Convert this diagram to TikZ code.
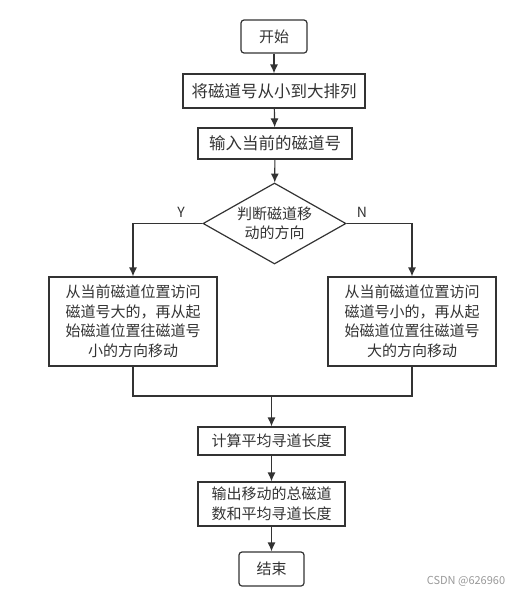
\documentclass[tikz,border=0pt]{standalone}
\usepackage{fontspec}
\setmainfont{Noto Sans CJK SC}
\usepackage{xcolor}
\usepackage{tikz}
\usetikzlibrary{shapes,arrows.meta}
\definecolor{ink}{HTML}{333333}
\tikzstyle{block} = [rectangle, draw=ink, line width=1.2pt, text=ink, align=center, inner sep=0pt, font=\fontsize{15}{19.5}\selectfont]
\tikzstyle{term} = [block, rounded corners=3pt]
\tikzstyle{decision} = [diamond, draw=ink, line width=1.2pt, text=ink, align=center, inner sep=0pt, shape aspect=1.77, minimum width=143pt, minimum height=81pt, font=\fontsize{15}{19}\selectfont]
\tikzstyle{line} = [draw=ink, line width=1.2pt, -{Latex[length=9pt, width=8pt]}]
\tikzstyle{tag} = [text=ink, font=\fontsize{14}{14}\selectfont]

\begin{document}
\begin{tikzpicture}[x=1pt, y=-1pt]
\useasboundingbox (0,0) rectangle (531,595);
\node [term, minimum width=66pt, minimum height=33pt] (start) at (274,36.5) {开始};
\node [block, minimum width=182pt, minimum height=34pt, font=\fontsize{16.5}{19}\selectfont] (sort) at (274,91) {将磁道号从小到大排列};
\node [block, minimum width=154pt, minimum height=31pt, font=\fontsize{16.5}{19}\selectfont] (input) at (275,143.5) {输入当前的磁道号};
\path [line] (start) -- (sort);
\path [line] (sort) -- (input);
\node [decision] (judge) at (274.5,223.5) {判断磁道移\\动的方向};
\path [line] (input) -- (judge);

\node [block, minimum width=168pt, minimum height=89pt] (left) at (133,321.5) {从当前磁道位置访问\\磁道号大的，再从起\\始磁道位置往磁道号\\小的方向移动};
\node [block, minimum width=168pt, minimum height=89pt] (right) at (412,321.5) {从当前磁道位置访问\\磁道号小的，再从起\\始磁道位置往磁道号\\大的方向移动};
\path [line] (judge.west) -| (left.north);
\path [line] (judge.east) -| (right.north);
\node [tag] (yes) at (181,212) {Y};
\node [tag] (no) at (362,212) {N};

\coordinate (merge) at (271.5,396);
\draw [ink, line width=1.2pt] (left.south) |- (merge);
\draw [ink, line width=1.2pt] (right.south) |- (merge);

\node [block, minimum width=147pt, minimum height=28pt] (calc) at (271.5,441) {计算平均寻道长度};
\path [line] (merge) -- (calc);
\node [block, minimum width=147pt, minimum height=44pt] (output) at (271.5,504) {输出移动的总磁道\\数和平均寻道长度};
\path [line] (calc) -- (output);
\node [term, minimum width=65pt, minimum height=34pt] (stop) at (271.5,569) {结束};
\path [line] (output) -- (stop);

\node [text=gray!80, font=\fontsize{11}{11}\selectfont] (mark) at (466,581) {CSDN @626960};
\end{tikzpicture}
\end{document}
